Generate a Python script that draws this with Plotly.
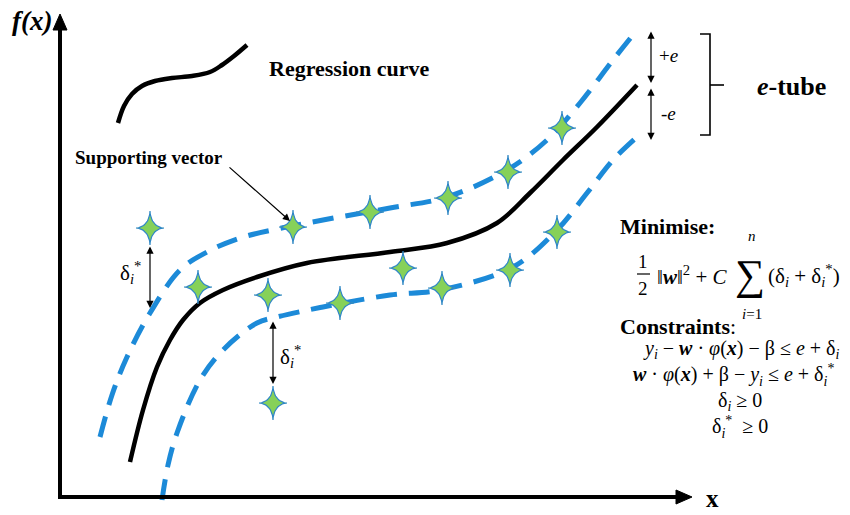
import numpy as np
import plotly.graph_objects as go

# ---- data (pixel-space coordinates) ----
curve_x = [130, 143, 157, 170, 183, 200, 223, 257, 307, 390, 447, 497, 530, 563, 597, 637]
curve_y = [462, 410, 367, 340, 320, 303, 290, 277, 263, 252, 243, 223, 193, 160, 127, 85]

upper_x = [100, 112, 127, 150, 180, 207, 240, 277, 323, 390, 447, 507, 547, 580, 613, 637]
upper_y = [437, 395, 357, 313, 270, 252, 238, 229, 220, 208, 197, 170, 140, 103, 60, 30]

lower_x = [162, 168, 177, 200, 223, 257, 277, 323, 390, 440, 513, 557, 587, 613, 637]
lower_y = [500, 465, 433, 380, 350, 323, 317, 307, 295, 290, 267, 230, 193, 160, 137]

star_x = [150, 198, 268, 293, 340, 370, 403, 442, 448, 508, 510, 557, 562, 273]
star_y = [228, 287, 295, 227, 303, 212, 268, 288, 198, 172, 270, 232, 128, 403]

legend_x = [118, 124, 132, 142, 155, 172, 192, 210, 222, 234, 247]
legend_y = [123, 106, 94, 86, 81, 78, 76, 72, 65, 56, 45]

BLUE = "#1C8AD8"
SERIF = "Times New Roman, Liberation Serif, serif"

fig = go.Figure()

fig.add_trace(go.Scatter(x=upper_x, y=upper_y, mode="lines", line_shape="spline",
                         line=dict(color=BLUE, width=5, dash="21px,12px")))
fig.add_trace(go.Scatter(x=lower_x, y=lower_y, mode="lines", line_shape="spline",
                         line=dict(color=BLUE, width=5, dash="21px,12px")))
fig.add_trace(go.Scatter(x=curve_x, y=curve_y, mode="lines", line_shape="spline",
                         line=dict(color="black", width=4.5)))
fig.add_trace(go.Scatter(x=legend_x, y=legend_y, mode="lines", line_shape="spline",
                         line=dict(color="black", width=4.5)))

# four-pointed stars built around each data point (marker glyph)
t = np.linspace(0, 2 * np.pi, 121)
p = 3.6
gx = 14 * np.sign(np.cos(t)) * np.abs(np.cos(t)) ** p
gy = 17 * np.sign(np.sin(t)) * np.abs(np.sin(t)) ** p
sx, sy = [], []
for cx, cy in zip(star_x, star_y):
    sx += list(cx + gx) + [None]
    sy += list(cy + gy) + [None]
fig.add_trace(go.Scatter(x=sx, y=sy, mode="lines", fill="toself", fillcolor="#86D159",
                         line=dict(color="#2F86C8", width=1.2)))

# axes
ax_origin = (60, 497)
ax_top = 14
ax_right = 692
fig.add_shape(type="line", x0=ax_origin[0], y0=ax_origin[1], x1=ax_origin[0], y1=ax_top + 14,
              line=dict(color="black", width=4))
fig.add_shape(type="line", x0=ax_origin[0] - 2, y0=ax_origin[1], x1=ax_right - 14, y1=ax_origin[1],
              line=dict(color="black", width=4))
fig.add_shape(type="path", path=f"M {ax_origin[0]-7} {ax_top+16} L {ax_origin[0]} {ax_top} L {ax_origin[0]+7} {ax_top+16} Z",
              fillcolor="black", line=dict(color="black", width=1))
fig.add_shape(type="path", path=f"M {ax_right-16} {ax_origin[1]-7} L {ax_right} {ax_origin[1]} L {ax_right-16} {ax_origin[1]+7} Z",
              fillcolor="black", line=dict(color="black", width=1))

# bracket for e-tube
br_x, br_top, br_bot, br_mid = 710, 34, 135, 85
fig.add_shape(type="path", path=f"M {br_x-10} {br_top} L {br_x} {br_top} L {br_x} {br_bot} L {br_x-10} {br_bot}",
              line=dict(color="black", width=1.6))
fig.add_shape(type="line", x0=br_x, y0=br_mid, x1=br_x + 14, y1=br_mid, line=dict(color="black", width=1.6))

# fraction bar
fig.add_shape(type="line", x0=637, y0=274, x1=650, y1=274, line=dict(color="black", width=1.2))

def arrow(x0, y0, x1, y1, both=False, w=1.2):
    fig.add_annotation(x=x1, y=y1, ax=x0, ay=y0, axref="x", ayref="y", xref="x", yref="y",
                       text="", showarrow=True, arrowhead=2, arrowsize=1.2, arrowwidth=w,
                       arrowcolor="black", arrowside="end+start" if both else "end")

arrow(150, 245, 150, 308, both=True)
arrow(273, 320, 273, 384, both=True)
arrow(228, 166, 290, 221)
arrow(651, 30, 651, 83, both=True)
arrow(651, 87, 651, 140, both=True)

def txt(x, y, s, size=16, xa="center", ya="middle", fam=SERIF):
    fig.add_annotation(x=x, y=y, xref="x", yref="y", text=s, showarrow=False,
                       xanchor=xa, yanchor=ya, font=dict(family=fam, size=size, color="black"))

txt(10, 21, "<b><i>f(x)</i></b>", 27, xa="left")
txt(712, 498, "<b>x</b>", 25, xa="center")
txt(267, 68, "<b>Regression curve</b>", 22, xa="left")
txt(73, 157, "<b>Supporting vector</b>", 19, xa="left")
txt(668, 55, "+<i>e</i>", 19)
txt(668, 113, "-<i>e</i>", 19)
txt(791, 86, "<b><i>e</i>-tube</b>", 26)
txt(130, 272, "δ<sub><i>i</i></sub><sup>*</sup>", 21)
txt(290, 356, "δ<sub><i>i</i></sub><sup>*</sup>", 21)

txt(618, 226, "<b>Minimise:</b>", 22, xa="left")
txt(643, 261, "1", 19)
txt(643, 288, "2", 19)
txt(655, 275, "‖<b><i>w</i></b>‖<sup>2</sup> + <i>C</i>", 21, xa="left")
txt(750, 275, "∑", 42)
txt(752, 236, "<i>n</i>", 15)
txt(752, 314, "<i>i</i>=1", 15)
txt(766, 275, "(δ<sub><i>i</i></sub> + δ<sub><i>i</i></sub><sup>*</sup>)", 21, xa="left")
txt(618, 326, "<b>Constraints</b>:", 22, xa="left")
txt(741, 349, "<i>y<sub>i</sub></i> − <b><i>w</i></b> · <i>φ</i>(<b><i>x</i></b>) − β ≤ <i>e</i> + δ<sub><i>i</i></sub>", 20)
txt(733, 375, "<b><i>w</i></b> · <i>φ</i>(<b><i>x</i></b>) + β − <i>y<sub>i</sub></i> ≤ <i>e</i> + δ<sub><i>i</i></sub><sup>*</sup>", 20)
txt(740, 401, "δ<sub><i>i</i></sub> ≥ 0", 20)
txt(740, 427, "δ<sub><i>i</i></sub><sup>*</sup>  ≥ 0", 20)

fig.update_layout(width=850, height=515, margin=dict(l=0, r=0, t=0, b=0),
                  plot_bgcolor="white", paper_bgcolor="white", showlegend=False,
                  xaxis=dict(range=[0, 850], visible=False, fixedrange=True),
                  yaxis=dict(range=[515, 0], visible=False, fixedrange=True))
fig.write_html("out.html")
